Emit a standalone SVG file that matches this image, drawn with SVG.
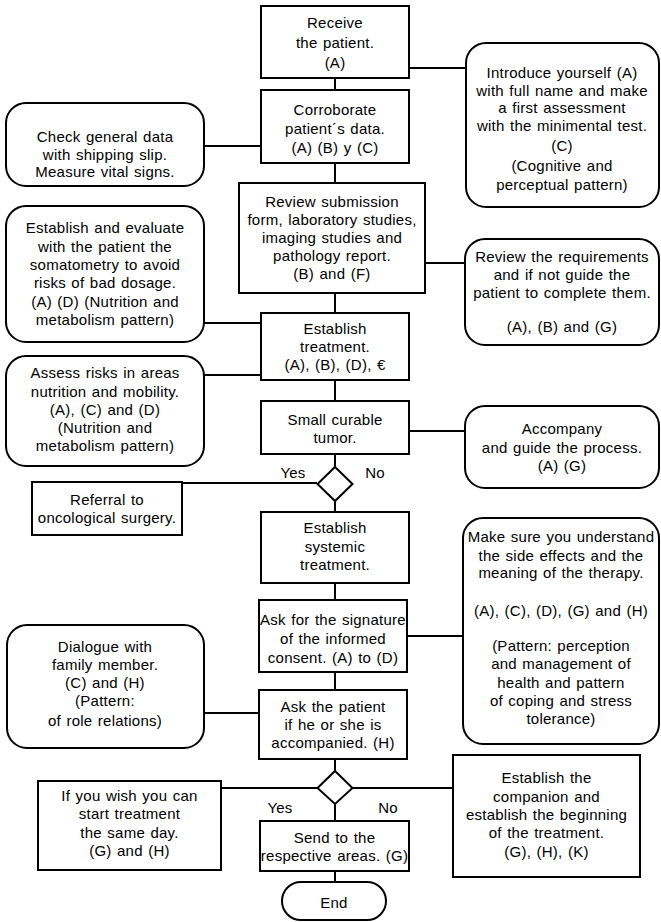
<svg xmlns="http://www.w3.org/2000/svg" width="661" height="922" viewBox="0 0 661 922">
<style>
.b{fill:#fff;stroke:#000;stroke-width:2}
.c{fill:none;stroke:#000;stroke-width:2}
text{font-family:"Liberation Sans",Arial,sans-serif;font-size:15px;fill:#000;text-anchor:middle;letter-spacing:0.25px;word-spacing:1px}
</style>
<rect width="661" height="922" fill="#fff"/>
<g id="connectors">
<path class="c" d="M335 78V90M335 163V183M335 293V313M335 380V401M335 454V467M335 501V512M335 583V600M335 672V690M335 759V771M335 804V821M335 871V882"/>
<path class="c" d="M409 68H466M204 146H261M425 263H465M204 323H261M204 375H261M409 431H465M182 483H317M407 636H463M204 713H259M221 788H317M352 788H453"/>
</g>
<g id="receive"><rect class="b" x="261" y="6" width="148" height="72"/>
<text x="335" y="28">Receive</text><text x="335" y="48">the patient.</text><text x="335" y="68">(A)</text></g>
<g id="introduce"><rect class="b" x="466" y="43" width="193" height="164" rx="20"/>
<text x="562" y="78">Introduce yourself (A)</text><text x="562" y="96">with full name and make</text><text x="562" y="113">a first assessment</text><text x="562" y="131">with the minimental test.</text><text x="562" y="151">(C)</text><text x="562" y="171">(Cognitive and</text><text x="562" y="190">perceptual pattern)</text></g>
<g id="corroborate"><rect class="b" x="261" y="90" width="148" height="73"/>
<text x="335" y="115">Corroborate</text><text x="335" y="134">patient´s data.</text><text x="335" y="153">(A) (B) y (C)</text></g>
<g id="check"><rect class="b" x="6" y="103" width="198" height="83" rx="20"/>
<text x="105" y="142">Check general data</text><text x="105" y="160">with shipping slip.</text><text x="105" y="177">Measure vital signs.</text></g>
<g id="review"><rect class="b" x="239" y="183" width="186" height="110"/>
<text x="332" y="207">Review submission</text><text x="332" y="225">form, laboratory studies,</text><text x="332" y="243">imaging studies and</text><text x="332" y="261">pathology report.</text><text x="332" y="279">(B) and (F)</text></g>
<g id="somatometry"><rect class="b" x="6" y="206" width="198" height="136" rx="20"/>
<text x="105" y="233">Establish and evaluate</text><text x="105" y="252">with the patient the</text><text x="105" y="270">somatometry to avoid</text><text x="105" y="288">risks of bad dosage.</text><text x="105" y="307">(A) (D) (Nutrition and</text><text x="105" y="325">metabolism pattern)</text></g>
<g id="requirements"><rect class="b" x="465" y="239" width="194" height="106" rx="20"/>
<text x="562" y="262">Review the requirements</text><text x="562" y="280">and if not guide the</text><text x="562" y="298">patient to complete them.</text><text x="562" y="332">(A), (B) and (G)</text></g>
<g id="treatment"><rect class="b" x="261" y="313" width="148" height="67"/>
<text x="335" y="334">Establish</text><text x="335" y="352">treatment.</text><text x="335" y="370">(A), (B), (D), €</text></g>
<g id="assess"><rect class="b" x="6" y="356" width="198" height="110" rx="20"/>
<text x="105" y="378">Assess risks in areas</text><text x="105" y="397">nutrition and mobility.</text><text x="105" y="415">(A), (C) and (D)</text><text x="105" y="433">(Nutrition and</text><text x="105" y="451">metabolism pattern)</text></g>
<g id="tumor"><rect class="b" x="261" y="401" width="148" height="53"/>
<text x="335" y="425">Small curable</text><text x="335" y="443">tumor.</text></g>
<g id="accompany"><rect class="b" x="465" y="406" width="194" height="82" rx="20"/>
<text x="562" y="434">Accompany</text><text x="562" y="453">and guide the process.</text><text x="562" y="471">(A) (G)</text></g>
<g id="decision1"><polygon class="b" points="335,467 352.5,484 335,501 317.5,484"/>
<text x="293" y="478">Yes</text><text x="375" y="478">No</text></g>
<g id="referral"><rect class="b" x="32" y="482" width="150" height="53"/>
<text x="107" y="505">Referral to</text><text x="107" y="523">oncological surgery.</text></g>
<g id="systemic"><rect class="b" x="261" y="512" width="148" height="71"/>
<text x="335" y="533">Establish</text><text x="335" y="552">systemic</text><text x="335" y="570">treatment.</text></g>
<g id="understand"><rect class="b" x="463" y="518" width="196" height="226" rx="20"/>
<text x="561" y="542">Make sure you understand</text><text x="561" y="561">the side effects and the</text><text x="561" y="578">meaning of the therapy.</text><text x="561" y="616">(A), (C), (D), (G) and (H)</text><text x="561" y="651">(Pattern: perception</text><text x="561" y="669">and management of</text><text x="561" y="688">health and pattern</text><text x="561" y="706">of coping and stress</text><text x="561" y="724">tolerance)</text></g>
<g id="signature"><rect class="b" x="259" y="600" width="148" height="72"/>
<text x="333" y="625">Ask for the signature</text><text x="333" y="644">of the informed</text><text x="333" y="663">consent. (A) to (D)</text></g>
<g id="dialogue"><rect class="b" x="7" y="625" width="197" height="123" rx="20"/>
<text x="105" y="652">Dialogue with</text><text x="105" y="670">family member.</text><text x="105" y="688">(C) and (H)</text><text x="105" y="706">(Pattern:</text><text x="105" y="726">of role relations)</text></g>
<g id="accompanied"><rect class="b" x="259" y="690" width="148" height="69"/>
<text x="333" y="712">Ask the patient</text><text x="333" y="730">if he or she is</text><text x="333" y="748">accompanied. (H)</text></g>
<g id="decision2"><polygon class="b" points="335,771 352.5,788 335,804 317.5,788"/>
<text x="280" y="813">Yes</text><text x="388" y="813">No</text></g>
<g id="sameday"><rect class="b" x="38" y="781" width="183" height="89"/>
<text x="129.5" y="801">If you wish you can</text><text x="129.5" y="819">start treatment</text><text x="129.5" y="838">the same day.</text><text x="129.5" y="856">(G) and (H)</text></g>
<g id="companion"><rect class="b" x="453" y="755" width="187" height="122"/>
<text x="546.5" y="783">Establish the</text><text x="546.5" y="802">companion and</text><text x="546.5" y="820">establish the beginning</text><text x="546.5" y="838">of the treatment.</text><text x="546.5" y="857">(G), (H), (K)</text></g>
<g id="send"><rect class="b" x="260" y="821" width="149" height="50"/>
<text x="334.5" y="843">Send to the</text><text x="334.5" y="861">respective areas. (G)</text></g>
<g id="end"><rect class="b" x="282" y="882" width="104" height="38" rx="19"/>
<text x="334" y="908">End</text></g>
</svg>
